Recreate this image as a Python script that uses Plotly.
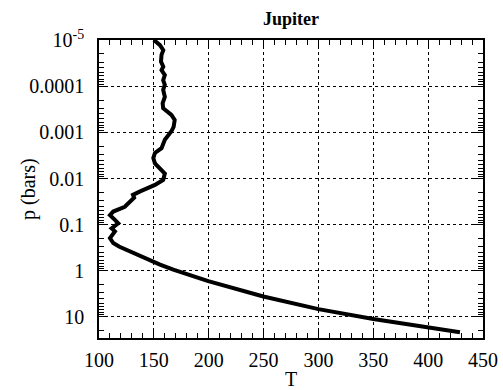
import plotly.graph_objects as go

# Temperature (K) and pressure (bars)
T = [150, 155.6, 158.6, 157, 156.5, 158.6, 157, 160, 158.5, 160, 158.5, 160, 158, 158.5,
     166, 169, 168, 166, 160, 157, 151, 149.5, 151, 155.5, 160, 158.5, 151, 137.5,
     131, 132, 127, 123.5, 113, 110, 114.5, 117.5, 111.5, 114.5, 110, 113, 118.2,
     131.3, 143.5, 155.6, 167.7, 186, 199.6, 249.8, 300, 350, 410.8, 429]
p = [1e-5, 1.29e-5, 1.66e-5, 2.1e-5, 2.95e-5, 3.8e-5, 4.5e-5, 5.75e-5, 7.4e-5, 9.3e-5,
     1.2e-4, 1.7e-4, 2.35e-4, 3.0e-4, 4.2e-4, 5.4e-4, 7.6e-4, 9.5e-4, 1.45e-3, 2.2e-3,
     2.8e-3, 3.6e-3, 4.7e-3, 6.0e-3, 7.8e-3, 1.07e-2, 1.38e-2, 1.9e-2, 2.26e-2, 2.6e-2,
     3.4e-2, 4.1e-2, 5.2e-2, 6.2e-2, 7.9e-2, 9.3e-2, 0.12, 0.14, 0.195, 0.25, 0.298,
     0.414, 0.558, 0.734, 0.942, 1.315, 1.67, 3.6, 6.75, 11.1, 18.3, 21.4]

y_tickvals = [1e-5, 1e-4, 1e-3, 1e-2, 1e-1, 1, 10]
y_ticktext = ["10<sup>-5</sup>", "0.0001", "0.001", "0.01", "0.1", "1", "10"]
x_tickvals = [100, 150, 200, 250, 300, 350, 400, 450]

y_minor = [k * 10 ** n for n in range(-5, 2) for k in range(2, 10)]

FONT = "Liberation Serif"

fig = go.Figure()
fig.add_trace(go.Scatter(x=T, y=p, mode="lines",
                         line=dict(color="black", width=4), showlegend=False))

fig.update_layout(
    width=503, height=390,
    margin=dict(l=99, r=20, t=40, b=52),
    paper_bgcolor="white", plot_bgcolor="white",
    font=dict(family=FONT, size=20, color="black"),
    title=dict(text="<b>Jupiter</b>", x=0.5786, xanchor="center", y=0.953, yanchor="middle",
               font=dict(family=FONT, size=18, color="black")),
    annotations=[dict(text="p (bars)", xref="paper", yref="paper", x=-0.185, y=0.5,
                      xanchor="center", yanchor="middle", textangle=-90, showarrow=False,
                      font=dict(family=FONT, size=20, color="black"))],
)
fig.update_xaxes(
    range=[100, 450], tickmode="array", tickvals=x_tickvals,
    ticks="inside", ticklen=9, tickwidth=1, tickcolor="black",
    showline=True, linecolor="black", linewidth=1.5, mirror="allticks",
    showgrid=True, gridcolor="black", griddash="dot", gridwidth=1,
    zeroline=False, automargin=False,
    minor=dict(dtick=10, ticks="inside", ticklen=5, tickcolor="black", showgrid=False),
    title=dict(text="T", font=dict(family=FONT, size=20), standoff=4),
    tickfont=dict(family=FONT, size=20),
    ticklabelstandoff=3,
)
fig.update_yaxes(
    type="log", range=[1.455, -5], tickmode="array", tickvals=y_tickvals, ticktext=y_ticktext,
    ticks="inside", ticklen=9, tickwidth=1, tickcolor="black",
    showline=True, linecolor="black", linewidth=1.5, mirror="allticks",
    showgrid=True, gridcolor="black", griddash="dot", gridwidth=1,
    zeroline=False, automargin=False,
    minor=dict(tickmode="array", tickvals=y_minor, ticks="inside", ticklen=5,
               tickcolor="black", showgrid=False),
    tickfont=dict(family=FONT, size=20),
    ticklabelstandoff=9,
)

fig.write_html("out.html")
